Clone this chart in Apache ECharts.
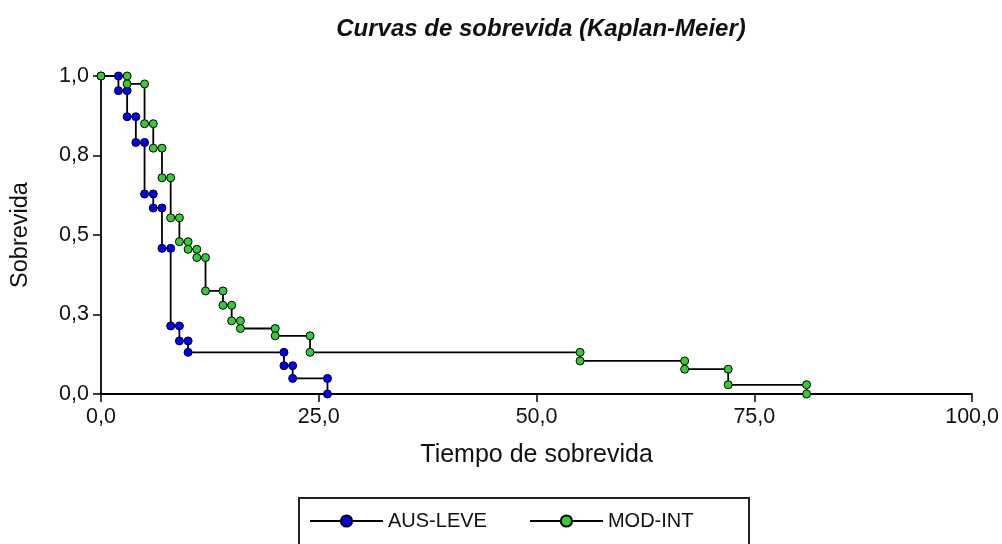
<!DOCTYPE html>
<html><head><meta charset="utf-8">
<script src="https://cdn.jsdelivr.net/npm/echarts@6/dist/echarts.min.js"></script>
<style>html,body{margin:0;padding:0;background:#fff}#c{width:1002px;height:544px}</style>
</head><body><div id="c"></div>
<script>
// Kaplan-Meier event times and survival after each event
const ausTimes = [2, 3, 4, 5, 6, 7, 8, 9, 10, 21, 22, 26];
const ausSurv  = [0.954, 0.872, 0.791, 0.629, 0.585, 0.458, 0.214, 0.167, 0.131, 0.089, 0.049, 0];
const modTimes = [3, 5, 6, 7, 8, 9, 10, 11, 12, 14, 15, 16, 20, 24, 55, 67, 72, 81];
const modSurv  = [0.975, 0.850, 0.773, 0.680, 0.554, 0.479, 0.455, 0.429, 0.324, 0.279, 0.230, 0.206, 0.183, 0.131, 0.104, 0.078, 0.029, 0];
const seriesNames = ['AUS-LEVE', 'MOD-INT'];
const xTickLabels = ['0,0', '25,0', '50,0', '75,0', '100,0'];
const yTickLabels = ['0,0', '0,3', '0,5', '0,8', '1,0'];

function steps(times, surv) {
  const pts = [[0, 1]];
  let prev = 1;
  times.forEach((t, i) => { pts.push([t, prev]); pts.push([t, surv[i]]); prev = surv[i]; });
  return pts;
}
const FONT = "'Liberation Sans', Arial, sans-serif";
const TXT = '#111';
const chart = echarts.init(document.getElementById('c'), null, {renderer: 'canvas'});
function mkSeries(name, pts, fill) {
  return {
    name: name, type: 'line', data: pts, symbol: 'circle', symbolSize: 8, showAllSymbol: true,
    lineStyle: {color: '#000', width: 1.8},
    itemStyle: {color: fill, borderColor: '#000', borderWidth: 1},
    emphasis: {disabled: true}, clip: false
  };
}
chart.setOption({
  animation: false,
  backgroundColor: '#fff',
  title: {
    text: 'Curvas de sobrevida (Kaplan-Meier)', left: 536, textAlign: 'center', top: 12,
    textStyle: {fontFamily: FONT, fontSize: 24, fontWeight: 'bold', fontStyle: 'italic', color: TXT}
  },
  grid: {left: 101, right: 29, top: 76, bottom: 150, containLabel: false},
  xAxis: {
    type: 'value', min: 0, max: 100, interval: 25,
    name: 'Tiempo de sobrevida', nameLocation: 'middle', nameGap: 49,
    nameTextStyle: {fontFamily: FONT, fontSize: 25, color: TXT},
    axisLine: {lineStyle: {color: '#000', width: 1.8}},
    axisTick: {length: 8, lineStyle: {color: '#000', width: 1.5}},
    splitLine: {show: false},
    axisLabel: {fontFamily: FONT, fontSize: 21.5, color: TXT, margin: 12,
      formatter: v => xTickLabels[Math.round(v / 25)]}
  },
  yAxis: {
    type: 'value', min: 0, max: 1, interval: 0.25,
    name: 'Sobrevida', nameLocation: 'middle', nameGap: 68,
    nameTextStyle: {fontFamily: FONT, fontSize: 23.5, color: TXT},
    axisLine: {show: true, lineStyle: {color: '#000', width: 1.8}},
    axisTick: {show: true, length: 8, lineStyle: {color: '#000', width: 1.5}},
    splitLine: {show: false},
    axisLabel: {fontFamily: FONT, fontSize: 21.5, color: TXT, margin: 12,
      formatter: v => yTickLabels[Math.round(v / 0.25)]}
  },
  legend: {
    data: seriesNames, left: 309, top: 511, padding: 0,
    itemWidth: 73, itemHeight: 14, itemGap: 42,
    textStyle: {fontFamily: FONT, fontSize: 20, color: TXT}
  },
  graphic: [{
    type: 'rect', shape: {x: 299, y: 498, width: 450, height: 80},
    style: {fill: 'none', stroke: '#222', lineWidth: 2}, silent: true
  }],
  series: [
    mkSeries(seriesNames[0], steps(ausTimes, ausSurv), '#0000ff'),
    mkSeries(seriesNames[1], steps(modTimes, modSurv), '#33cc33')
  ]
});
</script></body></html>
